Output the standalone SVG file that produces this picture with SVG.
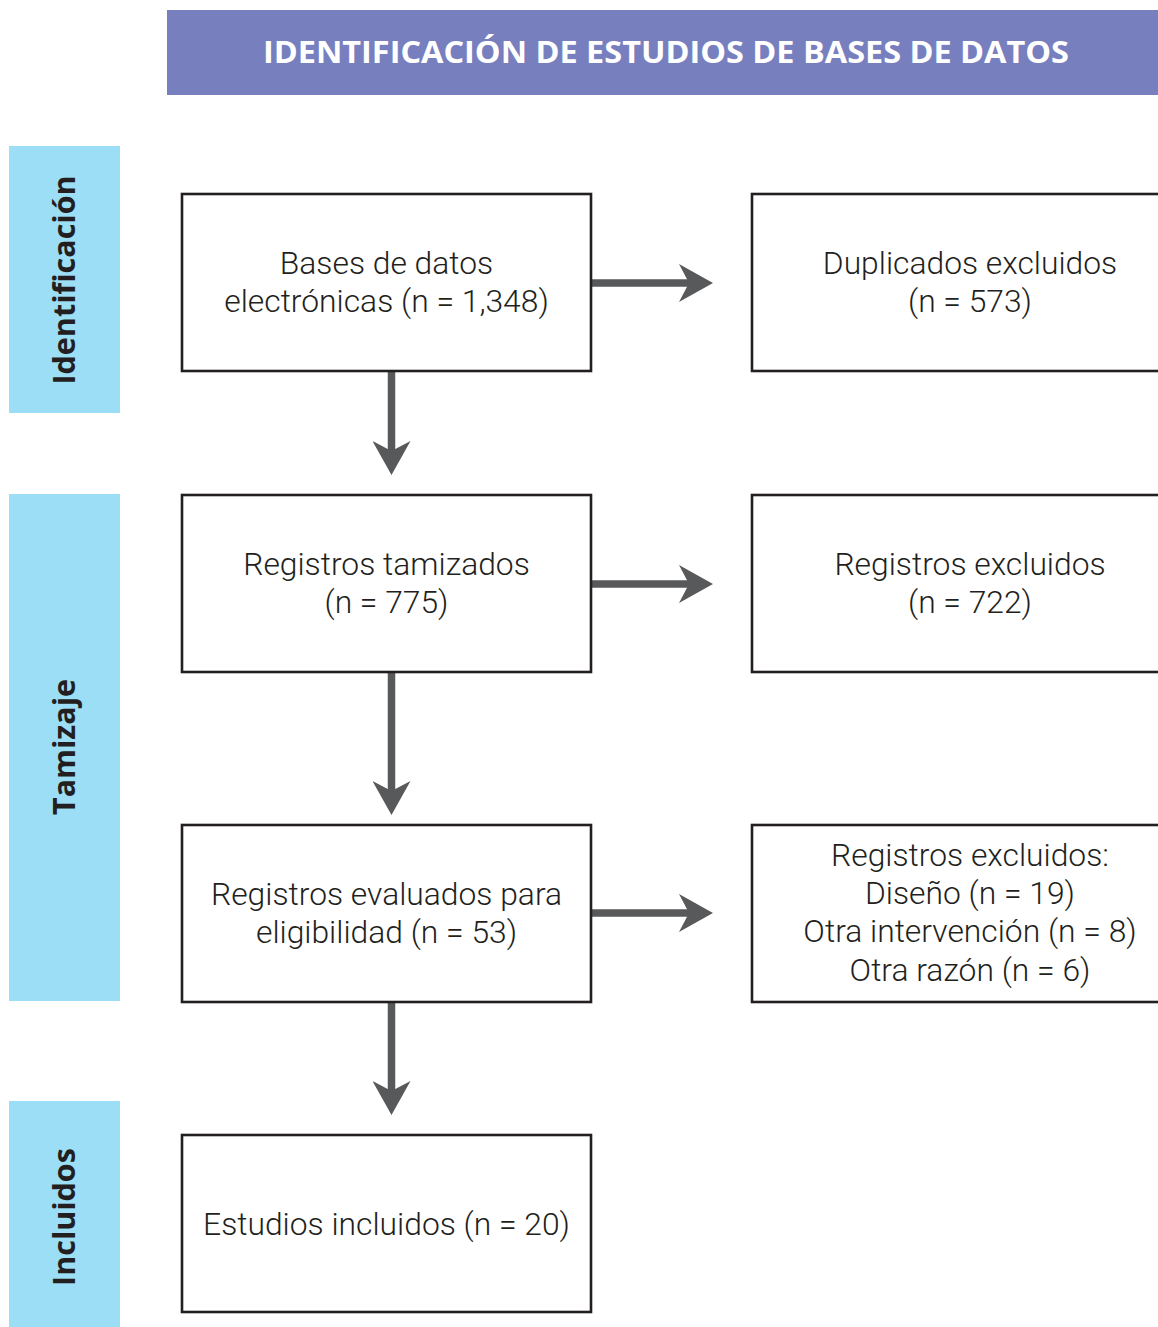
<svg xmlns="http://www.w3.org/2000/svg" width="1158" height="1327" viewBox="0 0 1158 1327">
<style>
.box{fill:#fff;stroke:#231f20;stroke-width:2.6}
.t{font-family:Roboto,"Liberation Sans",sans-serif;font-weight:300;font-size:31.8px;fill:#231f20;text-anchor:middle}
.side{fill:#9bdef6}
.st{font-family:"Open Sans","Liberation Sans",sans-serif;font-weight:700;font-size:30.5px;fill:#231f20;text-anchor:middle}
.conn{stroke:#58595b;stroke-width:7.5;fill:none}
</style>
<defs>
<marker id="ah" markerUnits="userSpaceOnUse" viewBox="0 0 34 38" markerWidth="34" markerHeight="38" refX="10" refY="19" orient="auto">
<path d="M0,0 L34,19 L0,38 L10,19 Z" fill="#58595b"/>
</marker>
</defs>
<rect width="1158" height="1327" fill="#fff"/>
<g id="title">
<rect x="167" y="10" width="991" height="85" fill="#787fbe"/>
<text x="666" y="63" font-family="'Open Sans','Liberation Sans',sans-serif" font-weight="700" font-size="31" fill="#fff" text-anchor="middle" textLength="806" lengthAdjust="spacingAndGlyphs">IDENTIFICACIÓN DE ESTUDIOS DE BASES DE DATOS</text>
</g>
<g id="stage-identificacion">
<rect class="side" x="9" y="146" width="111" height="267"/>
<text class="st" transform="translate(75,280) rotate(-90)">Identificación</text>
</g>
<g id="stage-tamizaje">
<rect class="side" x="9" y="494" width="111" height="507"/>
<text class="st" transform="translate(75,747) rotate(-90)">Tamizaje</text>
</g>
<g id="stage-incluidos">
<rect class="side" x="9" y="1101" width="111" height="226"/>
<text class="st" transform="translate(75,1217) rotate(-90)">Incluidos</text>
</g>
<g id="connectors">
<path class="conn" marker-end="url(#ah)" d="M591,283 H689"/>
<path class="conn" marker-end="url(#ah)" d="M591,584 H689"/>
<path class="conn" marker-end="url(#ah)" d="M591,913 H689"/>
<path class="conn" marker-end="url(#ah)" d="M391.5,372 V451"/>
<path class="conn" marker-end="url(#ah)" d="M391.5,673 V791"/>
<path class="conn" marker-end="url(#ah)" d="M391.5,1003 V1091"/>
</g>
<g id="bases">
<rect class="box" x="182" y="194" width="409" height="177"/>
<text class="t" x="386.5" y="274">Bases de datos</text>
<text class="t" x="386.5" y="312">electrónicas (n = 1,348)</text>
</g>
<g id="duplicados">
<rect class="box" x="752" y="194" width="436" height="177"/>
<text class="t" x="970" y="274">Duplicados excluidos</text>
<text class="t" x="970" y="312">(n = 573)</text>
</g>
<g id="tamizados">
<rect class="box" x="182" y="495" width="409" height="177"/>
<text class="t" x="386.5" y="575">Registros tamizados</text>
<text class="t" x="386.5" y="613">(n = 775)</text>
</g>
<g id="excluidos1">
<rect class="box" x="752" y="495" width="436" height="177"/>
<text class="t" x="970" y="575">Registros excluidos</text>
<text class="t" x="970" y="613">(n = 722)</text>
</g>
<g id="evaluados">
<rect class="box" x="182" y="825" width="409" height="177"/>
<text class="t" x="386.5" y="905">Registros evaluados para</text>
<text class="t" x="386.5" y="943">eligibilidad (n = 53)</text>
</g>
<g id="excluidos2">
<rect class="box" x="752" y="825" width="436" height="177"/>
<text class="t" x="970" y="866">Registros excluidos:</text>
<text class="t" x="970" y="904">Diseño (n = 19)</text>
<text class="t" x="970" y="942">Otra intervención (n = 8)</text>
<text class="t" x="970" y="981">Otra razón (n = 6)</text>
</g>
<g id="incluidos">
<rect class="box" x="182" y="1135" width="409" height="177"/>
<text class="t" x="386.5" y="1235">Estudios incluidos (n = 20)</text>
</g>
</svg>
